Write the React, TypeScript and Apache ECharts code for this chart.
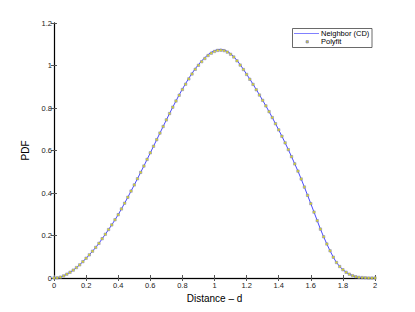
import React, { useEffect, useRef } from "react";
import * as echarts from "echarts";

// Sample positions along the distance axis (0 .. 2, every 0.02)
const distanceStep = 0.02;

// Neighbor (CD) PDF values, one per 0.02 step
const neighborPdf = [
  0.000, 0.001, 0.004, 0.010, 0.018, 0.027, 0.037, 0.049, 0.062, 0.077,
  0.093, 0.109, 0.126, 0.144, 0.163, 0.185, 0.206, 0.228, 0.250, 0.274,
  0.298, 0.325, 0.352, 0.380, 0.409, 0.438, 0.467, 0.497, 0.527, 0.558,
  0.589, 0.620, 0.651, 0.682, 0.713, 0.744, 0.774, 0.804, 0.833, 0.862,
  0.889, 0.915, 0.940, 0.963, 0.985, 1.004, 1.022, 1.037, 1.051, 1.062,
  1.070, 1.075, 1.076, 1.073, 1.066, 1.056, 1.042, 1.024, 1.004, 0.982,
  0.959, 0.936, 0.912, 0.887, 0.862, 0.836, 0.810, 0.783, 0.755, 0.726,
  0.697, 0.667, 0.636, 0.604, 0.571, 0.537, 0.503, 0.466, 0.428, 0.389,
  0.350, 0.310, 0.270, 0.230, 0.194, 0.160, 0.128, 0.098, 0.073, 0.054,
  0.039, 0.027, 0.018, 0.011, 0.006, 0.003, 0.002, 0.001, 0.000, 0.000,
  0.000,
];

// Polyfit marker values
const polyfitPdf = [
  0.000, 0.001, 0.004, 0.010, 0.018, 0.027, 0.037, 0.049, 0.062, 0.077,
  0.093, 0.109, 0.126, 0.144, 0.163, 0.185, 0.206, 0.228, 0.250, 0.274,
  0.298, 0.325, 0.352, 0.380, 0.409, 0.438, 0.467, 0.497, 0.527, 0.558,
  0.589, 0.620, 0.651, 0.682, 0.713, 0.744, 0.774, 0.804, 0.833, 0.860,
  0.887, 0.912, 0.937, 0.960, 0.982, 1.001, 1.018, 1.033, 1.047, 1.058,
  1.066, 1.071, 1.072, 1.070, 1.063, 1.053, 1.040, 1.022, 1.002, 0.981,
  0.958, 0.935, 0.911, 0.886, 0.861, 0.836, 0.810, 0.783, 0.755, 0.726,
  0.697, 0.667, 0.636, 0.604, 0.571, 0.537, 0.503, 0.466, 0.428, 0.389,
  0.350, 0.310, 0.270, 0.230, 0.194, 0.160, 0.128, 0.098, 0.073, 0.054,
  0.039, 0.027, 0.018, 0.011, 0.006, 0.003, 0.002, 0.001, 0.000, 0.000,
  0.000,
];

const xTickLabels = ["0", "0.2", "0.4", "0.6", "0.8", "1", "1.2", "1.4", "1.6", "1.8", "2"];
const yTickLabels = ["0", "0.2", "0.4", "0.6", "0.8", "1", "1.2"];

const legendNames = ["Neighbor (CD)", "Polyfit"];

const FONT = "'Liberation Sans', Arial, Helvetica, sans-serif";
const LINE_COLOR = "#4a4aff";

export default function App() {
  const ref = useRef<HTMLDivElement>(null);

  useEffect(() => {
    if (!ref.current) return;
    const chart = echarts.init(ref.current, undefined, { renderer: "svg" });

    const neighborData = neighborPdf.map((v, i) => [+(i * distanceStep).toFixed(2), v]);
    const polyfitData = polyfitPdf.map((v, i) => [+(i * distanceStep).toFixed(2), v]);

    const axisLabelStyle = { fontFamily: FONT, fontSize: 7.5, color: "#222" };

    const xFmt = (v: number) => {
      const idx = Math.round(v / 0.2);
      return xTickLabels[idx] ?? "";
    };
    const yFmt = (v: number) => {
      const idx = Math.round(v / 0.2);
      return yTickLabels[idx] ?? "";
    };

    chart.setOption({
      animation: false,
      backgroundColor: "#ffffff",
      grid: { left: 54, right: 40, top: 23, bottom: 34 },
      xAxis: [
        {
          type: "value",
          min: 0,
          max: 2,
          interval: 0.2,
          position: "bottom",
          name: "Distance – d",
          nameLocation: "middle",
          nameGap: 15,
          nameTextStyle: { fontFamily: FONT, fontSize: 10, color: "#000" },
          axisLine: { show: true, lineStyle: { color: "#777", width: 1.4 } },
          axisTick: { show: true, inside: true, length: 3, lineStyle: { color: "#555" } },
          axisLabel: { ...axisLabelStyle, margin: 3, formatter: xFmt },
          splitLine: { show: false },
        },
        {
          type: "value",
          min: 0,
          max: 2,
          interval: 0.2,
          position: "top",
          axisLine: { show: true, lineStyle: { color: "#000", width: 1 } },
          axisTick: { show: true, inside: true, length: 3, lineStyle: { color: "#555" } },
          axisLabel: { show: false },
          splitLine: { show: false },
        },
      ],
      yAxis: [
        {
          type: "value",
          min: 0,
          max: 1.2,
          interval: 0.2,
          position: "left",
          name: "PDF",
          nameLocation: "middle",
          nameGap: 20,
          nameRotate: 90,
          nameTextStyle: { fontFamily: FONT, fontSize: 10, color: "#000" },
          axisLine: { show: true, lineStyle: { color: "#777", width: 1.4 } },
          axisTick: { show: true, inside: true, length: 3, lineStyle: { color: "#555" } },
          axisLabel: { ...axisLabelStyle, margin: 2, formatter: yFmt },
          splitLine: { show: false },
        },
        {
          type: "value",
          min: 0,
          max: 1.2,
          interval: 0.2,
          position: "right",
          axisLine: { show: true, lineStyle: { color: "#000", width: 1 } },
          axisTick: { show: true, inside: true, length: 3, lineStyle: { color: "#555" } },
          axisLabel: { show: false },
          splitLine: { show: false },
        },
      ],
      series: [
        {
          name: legendNames[0],
          type: "line",
          xAxisIndex: 0,
          yAxisIndex: 0,
          data: neighborData,
          showSymbol: false,
          smooth: false,
          lineStyle: { color: LINE_COLOR, width: 1 },
          itemStyle: { color: LINE_COLOR },
          z: 2,
        },
        {
          name: legendNames[1],
          type: "scatter",
          xAxisIndex: 0,
          yAxisIndex: 0,
          data: polyfitData,
          symbol: "rect",
          symbolSize: 2.4,
          itemStyle: { color: "#e8e800", borderColor: "#7777c8", borderWidth: 0.6, opacity: 0.9 },
          z: 3,
        },
      ],
      graphic: [
        {
          type: "rect",
          shape: { x: 292.5, y: 28.5, width: 79.5, height: 19 },
          style: { fill: "#fff", stroke: "#444", lineWidth: 0.8 },
          z: 10,
        },
        {
          type: "line",
          shape: { x1: 294, y1: 33.5, x2: 319, y2: 33.5 },
          style: { stroke: "#8080ff", lineWidth: 1 },
          z: 11,
        },
        {
          type: "text",
          x: 321,
          y: 33.5,
          style: {
            text: legendNames[0],
            fontFamily: FONT,
            fontSize: 7.5,
            fill: "#000",
            verticalAlign: "middle",
            align: "left",
          },
          z: 11,
        },
        {
          type: "rect",
          shape: { x: 306, y: 40.6, width: 2.4, height: 2.4 },
          style: { fill: "#c8c840", stroke: "#7777c8", lineWidth: 0.6 },
          z: 11,
        },
        {
          type: "text",
          x: 321,
          y: 41.8,
          style: {
            text: legendNames[1],
            fontFamily: FONT,
            fontSize: 7.5,
            fill: "#000",
            verticalAlign: "middle",
            align: "left",
          },
          z: 11,
        },
      ],
    });

    return () => {
      chart.dispose();
    };
  }, []);

  return (
    <div
      ref={ref}
      style={{ position: "fixed", left: 0, top: 0, width: 415, height: 312, background: "#fff" }}
    />
  );
}
